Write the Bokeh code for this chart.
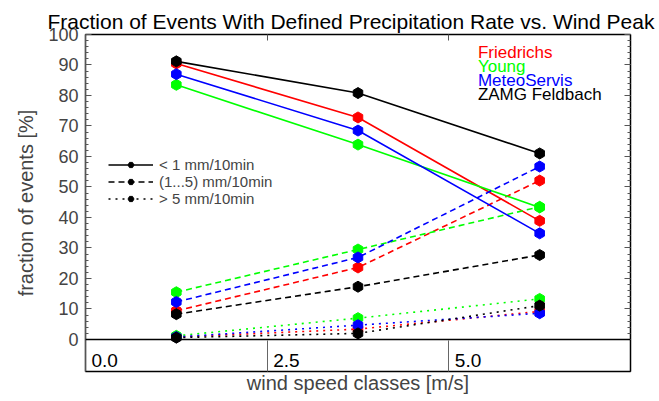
import numpy as np
from bokeh.plotting import figure
from bokeh.models import (Range1d, FixedTicker, LinearAxis, Span, Label, Legend, LegendItem,
                          CustomJSTickFormatter)
from bokeh.embed import file_html
from bokeh.resources import INLINE

# ---- data ----
wind_classes = [1.25, 3.75, 6.25]
stations = ["Friedrichs", "Young", "MeteoServis", "ZAMG Feldbach"]
station_colors = ["#ff0000", "#00ff00", "#0000ff", "#000000"]
rate_labels = ["< 1 mm/10min", "(1...5) mm/10min", "> 5 mm/10min"]
rate_dashes = ["solid", "6 4", "2 5"]

friedrichs_low = [90.5, 72.8, 38.9]
friedrichs_mid = [9.4, 23.6, 52.1]
friedrichs_high = [0.8, 3.4, 9.2]
young_low = [83.5, 63.9, 43.3]
young_mid = [15.5, 29.5, 43.5]
young_high = [1.2, 7.0, 13.3]
meteo_low = [87.0, 68.5, 34.8]
meteo_mid = [12.3, 26.9, 56.7]
meteo_high = [0.8, 4.7, 8.6]
zamg_low = [91.2, 80.8, 61.0]
zamg_mid = [8.3, 17.3, 27.7]
zamg_high = [0.6, 2.0, 11.1]

series = [
    [friedrichs_low, friedrichs_mid, friedrichs_high],
    [young_low, young_mid, young_high],
    [meteo_low, meteo_mid, meteo_high],
    [zamg_low, zamg_mid, zamg_high],
]

xtick_vals = [0.0, 2.5, 5.0]
xtick_labels = ["0.0", "2.5", "5.0"]
ytick_vals = list(range(0, 101, 10))
yminor_vals = list(range(0, 101, 2))

FONT = "Liberation Sans"
blank = CustomJSTickFormatter(code="return ''")

p = figure(width=659, height=401, output_backend="svg", toolbar_location=None,
           x_range=Range1d(0, 7.5), y_range=Range1d(-10.5, 100),
           min_border_left=85, min_border_right=29, min_border_top=34, min_border_bottom=30,
           title="Fraction of Events With Defined Precipitation Rate vs. Wind Peak")
p.title.align = "left"
p.title.offset = -38
p.title.text_font = FONT
p.title.text_font_size = "21px"
p.title.text_font_style = "normal"
p.title.text_color = "#000000"
p.title.standoff = 3
p.grid.visible = False
p.outline_line_color = "#000000"
p.outline_line_width = 1.5
p.background_fill_color = "white"
p.border_fill_color = "white"

# left axis
ya = p.yaxis[0]
ya.ticker = FixedTicker(ticks=ytick_vals, minor_ticks=yminor_vals)
ya.major_tick_in = 6
ya.major_tick_out = 0
ya.minor_tick_in = 3
ya.minor_tick_out = 0
ya.major_label_text_font = FONT
ya.major_label_text_font_size = "18px"
ya.major_label_standoff = 7
ya.axis_label = "fraction of events [%]"
ya.axis_label_text_font = FONT
ya.axis_label_text_font_size = "20px"
ya.axis_label_text_font_style = "normal"
ya.axis_label_standoff = 8
ya.axis_line_color = "#555555"
ya.major_tick_line_color = "#555555"
ya.minor_tick_line_color = "#555555"

# bottom axis (labels drawn inside the box)
xa = p.xaxis[0]
xa.ticker = FixedTicker(ticks=xtick_vals + [7.5], minor_ticks=[])
xa.formatter = blank
xa.major_tick_in = 31
xa.major_tick_out = 0
xa.major_label_standoff = 0
xa.axis_label = "wind speed classes [m/s]"
xa.axis_label_text_font = FONT
xa.axis_label_text_font_size = "20px"
xa.axis_label_text_font_style = "normal"
xa.axis_label_standoff = 0
xa.axis_line_color = "#000000"
xa.major_tick_line_color = "#666666"

# right axis
ra = LinearAxis(ticker=FixedTicker(ticks=ytick_vals, minor_ticks=yminor_vals),
                formatter=blank,
                major_tick_in=6, major_tick_out=0, minor_tick_in=3, minor_tick_out=0,
                major_label_standoff=0,
                axis_line_color="#000000", major_tick_line_color="#555555",
                minor_tick_line_color="#555555")
p.add_layout(ra, "right")

# top axis
ta = LinearAxis(ticker=FixedTicker(ticks=xtick_vals + [7.5], minor_ticks=[]),
                formatter=blank,
                major_tick_in=6, major_tick_out=0, minor_tick_in=0, minor_tick_out=0,
                major_label_standoff=0,
                axis_line_color="#000000", major_tick_line_color="#555555")
p.add_layout(ta, "above")

# zero line
p.add_layout(Span(location=0, dimension="width", line_color="#000000", line_width=1.5))

# x tick labels inside the box
for tv, tl in zip(xtick_vals, xtick_labels):
    p.add_layout(Label(x=tv, y=-6.9, x_offset=6, text=tl, text_font=FONT,
                       text_font_size="19px", text_baseline="middle", text_color="#000000"))

legend_items = []
for si, (name, col) in enumerate(zip(stations, station_colors)):
    for ri, vals in enumerate(series[si]):
        ln = p.line(wind_classes, vals, line_color=col, line_width=1.6, line_dash=rate_dashes[ri])
        sc = p.scatter(wind_classes, vals, marker="hex", size=11, angle=np.pi / 2,
                       fill_color=col, line_color=col)
        if si == len(stations) - 1:
            legend_items.append(LegendItem(label=rate_labels[ri], renderers=[ln, sc]))

leg = Legend(items=legend_items, location=(23, 164), glyph_width=45, glyph_height=15,
             label_text_font=FONT, label_text_font_size="15px", label_height=15,
             label_standoff=6, spacing=0, padding=0, margin=0,
             border_line_alpha=0, background_fill_alpha=0)
p.add_layout(leg, "center")

# station colour legend
for i, (name, col) in enumerate(zip(stations, station_colors)):
    p.add_layout(Label(x=5.40, y=94.1, y_offset=-14 * i, text=name, text_color=col,
                       text_font=FONT, text_font_size="17px", text_baseline="middle"))

open("out.html", "w").write(file_html(p, INLINE))
